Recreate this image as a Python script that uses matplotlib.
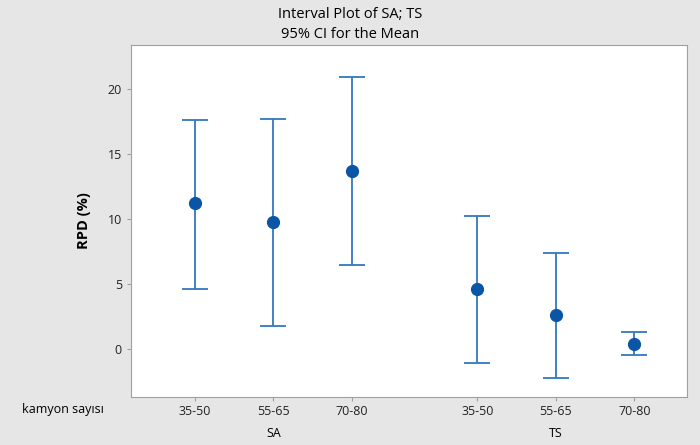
import matplotlib.pyplot as plt

# group positions (SA | TS) with a gap between groups
groups = ['SA', 'TS']
levels = ['35-50', '55-65', '70-80']
means = [11.2, 9.8, 13.7, 4.6, 2.6, 0.4]
upper = [17.6, 17.7, 20.9, 10.2, 7.4, 1.3]
lower = [4.6, 1.8, 6.5, -1.1, -2.2, -0.5]
xpos = [0, 1, 2, 3.6, 4.6, 5.6]

bg = '#e6e6e6'
line_c = '#3477c0'
dot_c = '#0a55a5'
spine_c = '#a0a0a0'

plt.rcParams['font.family'] = ['Open Sans', 'DejaVu Sans']

fig = plt.figure(figsize=(7, 4.45), dpi=100, facecolor=bg)
ax = fig.add_axes([131 / 700, 1 - 397 / 445, (687 - 131) / 700, (397 - 45) / 445])
ax.set_facecolor('white')

yerr = [[m - l for m, l in zip(means, lower)], [u - m for m, u in zip(means, upper)]]
ax.errorbar(xpos, means, yerr=yerr, fmt='none', ecolor=line_c, elinewidth=1.3,
            capsize=9.5, capthick=1.3)
ax.plot(xpos, means, 'o', color=dot_c, markersize=8.5)

ax.set_xlim(-0.815, 6.27)
ax.set_ylim(-3.7, 23.4)
ax.set_yticks([0, 5, 10, 15, 20])
ax.set_xticks(xpos)
ax.set_xticklabels(levels * 2)
ax.tick_params(axis='both', colors=spine_c, length=3, labelcolor='#222222', labelsize=9)
ax.tick_params(axis='x', pad=3)
for s in ax.spines.values():
    s.set_color(spine_c)

ax.set_ylabel('RPD (%)', fontsize=10.5, fontweight='bold', labelpad=12)

fig.text(22 / 700, 1 - 410 / 445, 'kamyon sayısı', fontsize=9, va='center', ha='left')
for g, gx in zip(groups, [1, 4.6]):
    ax.annotate(g, xy=(gx, 0), xycoords=('data', 'axes fraction'),
                xytext=(0, -26.5), textcoords='offset points', ha='center', va='center',
                fontsize=9)

fig.text(0.5, 1 - 15 / 445, 'Interval Plot of SA; TS', ha='center', va='center', fontsize=10.5)
fig.text(0.5, 1 - 34 / 445, '95% CI for the Mean', ha='center', va='center', fontsize=10.5)

fig.savefig('out.png', dpi=100, facecolor=bg)
